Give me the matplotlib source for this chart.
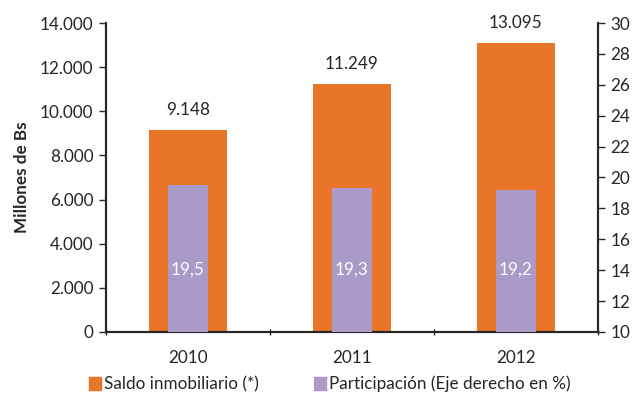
import matplotlib.pyplot as plt
import numpy as np

plt.rcParams['font.family'] = ['Lato', 'DejaVu Sans']

# Data
years = ['2010', '2011', '2012']
saldo = [9148, 11249, 13095]
saldo_labels = ['9.148', '11.249', '13.095']
participacion = [19.5, 19.3, 19.2]
part_labels = ['19,5', '19,3', '19,2']

orange = '#E87528'
purple = '#A99AC8'
txt = '#262626'
fs = 12.3

fig = plt.figure(figsize=(6.34, 3.97), dpi=100)
ax = fig.add_axes([0.167, 0.164, 0.776, 0.778])
ax2 = ax.twinx()

x = np.arange(len(years))
ax.bar(x, saldo, width=0.48, color=orange, zorder=2)
ax2.bar(x, np.array(participacion) - 10, bottom=10, width=0.24, color=purple, zorder=3)

for xi, v, s in zip(x, saldo, saldo_labels):
    ax.text(xi, v + 550, s, ha='center', va='bottom', fontsize=fs, color=txt)
for xi, s in zip(x, part_labels):
    ax2.text(xi, 14, s, ha='center', va='center', fontsize=fs, color='white')

ax.set_xlim(-0.5, 2.5)
ax.set_ylim(0, 14000)
ax.set_yticks(range(0, 14001, 2000))
ax.set_yticklabels(['0', '2.000', '4.000', '6.000', '8.000', '10.000', '12.000', '14.000'])
ax2.set_ylim(10, 30)
ax2.set_yticks(range(10, 31, 2))

ax.set_xticks(x)
ax.set_xticklabels(years)
ax.set_xticks([-0.5, 0.5, 1.5, 2.5], minor=True)
ax.tick_params(axis='x', which='major', length=0, pad=13, labelsize=fs, colors=txt)
ax.tick_params(axis='x', which='minor', length=4, width=1, direction='inout', color=txt)
ax.tick_params(axis='y', length=5, width=1, labelsize=fs, colors=txt, pad=4)
ax2.tick_params(axis='y', length=5, width=1, labelsize=fs, colors=txt, pad=4)

for a in (ax, ax2):
    a.spines['top'].set_visible(False)
    for s in ('left', 'right', 'bottom'):
        a.spines[s].set_linewidth(1.5)
        a.spines[s].set_color(txt)

ax.set_ylabel('Millones de Bs', fontsize=fs, fontweight='bold', color=txt, labelpad=7)

handles = [plt.Rectangle((0, 0), 1, 1, color=orange), plt.Rectangle((0, 0), 1, 1, color=purple)]
fig.legend(handles, ['Saldo inmobiliario (*)', 'Participación (Eje derecho en %)'],
           loc='center', bbox_to_anchor=(0.52, 0.033), ncol=2, frameon=False,
           fontsize=fs, handlelength=0.7, handleheight=0.8, handletextpad=0.2,
           columnspacing=3.2, labelcolor=txt)

fig.savefig('out.png', dpi=100)
